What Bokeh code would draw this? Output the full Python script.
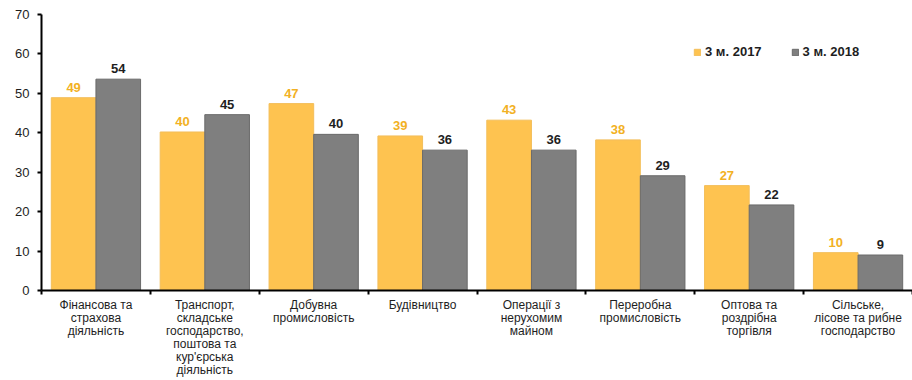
from bokeh.plotting import figure
from bokeh.models import ColumnDataSource, Range1d, FixedTicker, Legend, LegendItem, LabelSet
from bokeh.transform import dodge
from bokeh.core.properties import value
from bokeh.embed import file_html
from bokeh.resources import INLINE

categories = [
    "Фінансова та\nстрахова\nдіяльність",
    "Транспорт,\nскладське\nгосподарство,\nпоштова та\nкур'єрська\nдіяльність",
    "Добувна\nпромисловість",
    "Будівництво",
    "Операції з\nнерухомим\nмайном",
    "Переробна\nпромисловість",
    "Оптова та\nроздрібна\nторгівля",
    "Сільське,\nлісове та рибне\nгосподарство",
]
v2017 = [48.9, 40.2, 47.4, 39.2, 43.2, 38.2, 26.6, 9.6]
v2018 = [53.6, 44.6, 39.6, 35.6, 35.6, 29.1, 21.7, 9.0]
series = ["3 м. 2017", "3 м. 2018"]
y_ticks = [0, 10, 20, 30, 40, 50, 60, 70]

pos = list(range(1, len(categories) + 1))
src = ColumnDataSource(dict(
    x=pos,
    a=v2017,
    b=v2018,
    la=["%.0f" % v for v in v2017],
    lb=["%.0f" % v for v in v2018],
))

FONT = "Liberation Sans"
YEL = "#FEC350"
GRY = "#7F7F7F"

p = figure(width=912, height=380, output_backend="svg", toolbar_location=None,
           x_range=Range1d(0.5, len(categories) + 0.5), y_range=Range1d(0, 70),
           min_border_left=41, min_border_right=0, min_border_top=14, min_border_bottom=90)
p.outline_line_color = None
p.xgrid.visible = False
p.ygrid.visible = False
p.background_fill_color = "white"
p.border_fill_color = "white"

w = 0.41
r1 = p.vbar(x=dodge("x", -0.205, range=p.x_range), top="a", width=w, source=src,
            fill_color=YEL, line_color="#F3BE5A", line_width=1)
r2 = p.vbar(x=dodge("x", 0.205, range=p.x_range), top="b", width=w, source=src,
            fill_color=GRY, line_color="#6A6A6A", line_width=1)

l1 = LabelSet(x=dodge("x", -0.205, range=p.x_range), y="a", text="la", source=src,
              text_align="center", text_baseline="bottom", y_offset=6,
              text_font=value(FONT), text_font_size="13px", text_font_style="bold",
              text_color="#F2B124")
l2 = LabelSet(x=dodge("x", 0.205, range=p.x_range), y="b", text="lb", source=src,
              text_align="center", text_baseline="bottom", y_offset=6,
              text_font=value(FONT), text_font_size="13px", text_font_style="bold",
              text_color="#1E1E1E")
p.add_layout(l1)
p.add_layout(l2)

# x axis
xa = p.xaxis[0]
xa.ticker = FixedTicker(ticks=pos, minor_ticks=[i + 0.5 for i in range(len(categories) + 1)])
xa.major_label_overrides = {i: c for i, c in zip(pos, categories)}
xa.major_tick_out = 0
xa.major_tick_in = 0
xa.minor_tick_out = 4
xa.minor_tick_in = 0
xa.minor_tick_line_color = "black"
xa.minor_tick_line_width = 2
xa.axis_line_color = "black"
xa.axis_line_width = 2
xa.major_label_text_font = FONT
xa.major_label_text_font_size = "12px"
xa.major_label_text_line_height = 0.93
xa.major_label_text_color = "#1E1E1E"
xa.major_label_standoff = 3

# y axis
ya = p.yaxis[0]
ya.ticker = FixedTicker(ticks=y_ticks)
ya.major_tick_out = 4
ya.major_tick_in = 0
ya.major_tick_line_width = 2
ya.minor_tick_out = 0
ya.minor_tick_in = 0
ya.axis_line_color = "black"
ya.axis_line_width = 2
ya.major_label_text_font = FONT
ya.major_label_text_font_size = "13px"
ya.major_label_text_color = "#1E1E1E"
ya.major_label_standoff = 8

legend = Legend(items=[LegendItem(label=series[0], renderers=[r1]),
                       LegendItem(label=series[1], renderers=[r2])],
                location=(652, 231), orientation="horizontal",
                glyph_width=8, glyph_height=8, label_standoff=4, spacing=29,
                padding=0, margin=0, border_line_color=None, background_fill_alpha=0,
                label_text_font=FONT, label_text_font_size="13px",
                label_text_font_style="bold", label_text_color="#1E1E1E")
p.add_layout(legend, "center")

open("out.html", "w").write(file_html(p, INLINE))
